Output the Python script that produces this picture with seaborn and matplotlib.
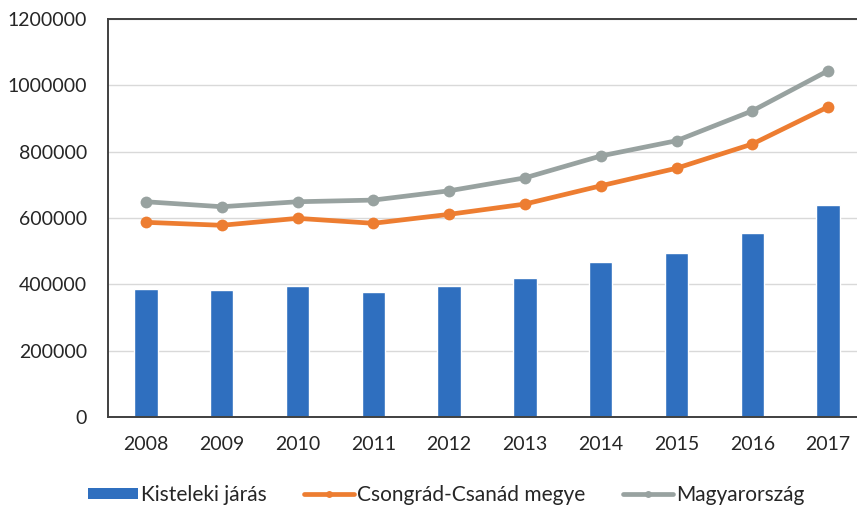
import numpy as np
import pandas as pd
import matplotlib
matplotlib.use("Agg")
import matplotlib.pyplot as plt
import seaborn as sns
from matplotlib.lines import Line2D
from matplotlib.patches import Patch

years = ["2008", "2009", "2010", "2011", "2012", "2013", "2014", "2015", "2016", "2017"]
kisteleki = [386000, 382000, 396000, 377000, 396000, 420000, 466000, 494000, 556000, 639000]
csongrad = [587000, 578000, 599000, 584000, 611000, 642000, 697000, 750000, 823000, 935000]
magyar = [649000, 634000, 649000, 654000, 682000, 721000, 787000, 833000, 923000, 1044000]
series_names = ["Kisteleki járás", "Csongrád-Csanád megye", "Magyarország"]
yticks = [0, 200000, 400000, 600000, 800000, 1000000, 1200000]

c_blue = "#2F6FBF"
c_orange = "#ED7D31"
c_gray = "#98A2A0"

sns.set_theme(style="white")
plt.rcParams["font.family"] = ["Lato", "DejaVu Sans"]

fig = plt.figure(figsize=(8.57, 5.08), dpi=100)
ax = fig.add_axes([108 / 857, 1 - 417 / 508, (866 - 108) / 857, 398 / 508])

df = pd.DataFrame({"year": years, "val": kisteleki})
sns.barplot(data=df, x="year", y="val", color=c_blue, width=0.31, ax=ax,
            saturation=1, zorder=2)

xpos = np.arange(len(years))
sns.lineplot(x=xpos, y=csongrad, color=c_orange, linewidth=3.4, marker="o",
             markersize=8.5, markeredgewidth=0, ax=ax, zorder=3)
sns.lineplot(x=xpos, y=magyar, color=c_gray, linewidth=3.4, marker="o",
             markersize=8.5, markeredgewidth=0, ax=ax, zorder=3)

ax.set_xlim(-0.5, len(years) - 0.5)
ax.set_ylim(0, 1200000)
ax.set_yticks(yticks)
ax.set_yticklabels([str(v) for v in yticks])
ax.set_xticks(xpos)
ax.set_xticklabels(years)
ax.set_xlabel("")
ax.set_ylabel("")
ax.yaxis.grid(True, color="#D9D9D9", linewidth=1.0, zorder=0)
ax.set_axisbelow(True)
for s in ax.spines.values():
    s.set_visible(True)
    s.set_color("#404040")
    s.set_linewidth(1.4)
ax.tick_params(axis="both", length=0, labelsize=14, colors="#262626")
ax.tick_params(axis="y", pad=15)
ax.tick_params(axis="x", pad=14)

handles = [
    Patch(facecolor=c_blue, edgecolor="none"),
    Line2D([0], [0], color=c_orange, linewidth=3.4, marker="o", markersize=5, markeredgewidth=0),
    Line2D([0], [0], color=c_gray, linewidth=3.4, marker="o", markersize=5, markeredgewidth=0),
]
fig.legend(handles, series_names, loc="center", bbox_to_anchor=(446 / 857, 1 - 495 / 508),
           ncol=3, frameon=False, fontsize=15, handlelength=2.4, handleheight=0.45,
           handletextpad=0.15, columnspacing=1.8, labelcolor="#262626")

fig.savefig("out.png", dpi=100)
